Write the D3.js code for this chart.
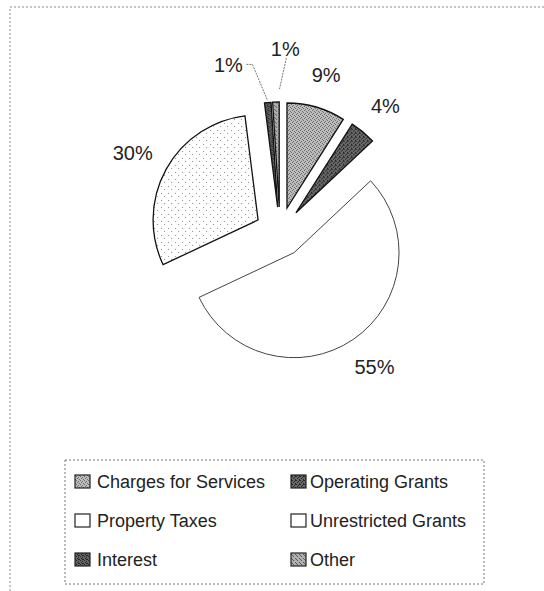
<!DOCTYPE html>
<meta charset="utf-8">
<script src="https://cdn.jsdelivr.net/npm/d3@7"></script>
<style>
  body { margin: 0; background: #fff; }
  text { font-family: "Liberation Sans", Arial, sans-serif; fill: #222; }
</style>
<div id="chart"></div>
<script>

    // chart data
    var categories = ["Charges for Services", "Operating Grants", "Property Taxes",
                      "Unrestricted Grants", "Interest", "Other"];
    var shares = [9, 4, 55, 30, 1, 1];
    var pctLabels = ["9%", "4%", "55%", "30%", "1%", "1%"];
    var fills = ["url(#pCharges)", "url(#pOperating)", "#ffffff",
                 "url(#pDots)", "url(#pInterest)", "url(#pOther)"];
    var legendFills = ["url(#pCharges)", "url(#pOperating)", "#ffffff",
                       "#ffffff", "url(#pInterest)", "url(#pOther)"];

    var width = 544, height = 591;
    var cx = 280, cy = 232, radius = 105, explode = 25;

    var svg = d3.select("#chart")
        .append("svg")
        .attr("width", width)
        .attr("height", height);

    // stipple patterns to mimic the printed fills
    var defs = svg.append("defs");
    function stipple(id, bg, fg, size, pts) {
        var p = defs.append("pattern")
            .attr("id", id)
            .attr("patternUnits", "userSpaceOnUse")
            .attr("width", size).attr("height", size);
        p.append("rect").attr("width", size).attr("height", size).attr("fill", bg);
        pts.forEach(function (q) {
            p.append("rect").attr("x", q[0]).attr("y", q[1])
                .attr("width", 1).attr("height", 1).attr("fill", fg);
        });
    }
    stipple("pCharges", "#bdbdbd", "#6a6a6a", 4, [[0, 0], [2, 1], [1, 2], [3, 3]]);
    stipple("pOperating", "#6a6a6a", "#262626", 4, [[0, 0], [2, 1], [1, 2], [3, 3], [3, 0]]);
    stipple("pInterest", "#666666", "#222222", 4, [[0, 0], [2, 1], [1, 2], [3, 3], [2, 3]]);
    stipple("pOther", "#b0b0b0", "#5a5a5a", 4, [[1, 0], [3, 2], [0, 3]]);
    stipple("pDots", "#ffffff", "#8a8a8a", 7, [[1, 1], [4, 4]]);

    // dotted chart frame
    svg.append("rect")
        .attr("x", 10).attr("y", 7)
        .attr("width", 560).attr("height", 600)
        .attr("fill", "none")
        .attr("stroke", "#8a8a8a")
        .attr("stroke-dasharray", "2,2");

    var pie = d3.pie().sort(null).value(function (d) { return d; });
    var arcs = pie(shares);
    var arc = d3.arc().innerRadius(0).outerRadius(radius);

    function midAngle(a) { return (a.startAngle + a.endAngle) / 2; }
    function offsetOf(a, dist) {
        var m = midAngle(a);
        return [cx + dist * Math.sin(m), cy - dist * Math.cos(m)];
    }

    var slices = svg.selectAll(".slice")
        .data(arcs)
        .enter()
        .append("g")
        .attr("class", "slice")
        .attr("transform", function (d) {
            var p = offsetOf(d, explode);
            return "translate(" + p[0] + "," + p[1] + ")";
        });

    slices.append("path")
        .attr("d", arc)
        .attr("fill", function (d, i) { return fills[i]; })
        .attr("stroke", function (d, i) { return i == 2 ? "#444" : "#111"; })
        .attr("stroke-width", function (d, i) { return i == 2 ? 1 : 1.3; })
        .attr("stroke-linejoin", "miter");

    // percentage labels for the larger slices
    var labelR = radius + 28;
    arcs.forEach(function (d, i) {
        if (shares[i] < 2) return;
        var m = midAngle(d);
        var ec = offsetOf(d, explode);
        var t = svg.append("text")
            .attr("font-size", "20px")
            .attr("text-anchor", "middle")
            .attr("dominant-baseline", "central")
            .text(pctLabels[i]);
        var bb = t.node().getBBox();
        var x = ec[0] + labelR * Math.sin(m) + 0.5 * (bb.width / 2) * Math.sin(m);
        var y = ec[1] - labelR * Math.cos(m) - 0.5 * (bb.height / 2) * Math.cos(m);
        t.attr("x", x).attr("y", y);
    });

    // small slices: labels pulled out with leader lines
    var small = arcs.filter(function (d, i) { return shares[i] < 2; });
    var spread = [-0.24, 0.07];
    var dists = [150, 158];
    small.forEach(function (d, k) {
        var i = d.index;
        var m = midAngle(d);
        var ec = offsetOf(d, explode);
        var la = m + spread[k];
        var lx = ec[0] + dists[k] * Math.sin(la);
        var ly = ec[1] - dists[k] * Math.cos(la);
        svg.append("text")
            .attr("x", lx).attr("y", ly)
            .attr("font-size", "20px")
            .attr("text-anchor", "middle")
            .attr("dominant-baseline", "central")
            .text(pctLabels[i]);
        var tip = [ec[0] + (radius + 2) * Math.sin(m), ec[1] - (radius + 2) * Math.cos(m)];
        var pts;
        if (k == 0) {
            pts = [[lx + 18, ly - 1], [lx + 24, ly - 1], tip];
        } else {
            var tip2 = [ec[0] + (radius + 13) * Math.sin(m) + 4, ec[1] - (radius + 13) * Math.cos(m)];
            pts = [[lx + 1, ly + 9], tip2];
        }
        svg.append("path")
            .attr("d", d3.line()(pts))
            .attr("fill", "none")
            .attr("stroke", "#777")
            .attr("stroke-width", 1)
            .attr("stroke-dasharray", "2,1");
    });

    // legend
    var lg = svg.append("g");
    lg.append("rect")
        .attr("x", 65).attr("y", 460)
        .attr("width", 419).attr("height", 124)
        .attr("fill", "none")
        .attr("stroke", "#777")
        .attr("stroke-dasharray", "2,2");

    var colX = [75, 291], rowY = [482, 521, 560];
    categories.forEach(function (c, i) {
        var x = colX[i % 2], y = rowY[Math.floor(i / 2)];
        lg.append("rect")
            .attr("x", x).attr("y", y - 7)
            .attr("width", 15).attr("height", 13)
            .attr("fill", legendFills[i])
            .attr("stroke", "#222")
            .attr("stroke-width", 1.2);
        lg.append("text")
            .attr("x", x + (i % 2 ? 19 : 22)).attr("y", y)
            .attr("font-size", "18px")
            .attr("dominant-baseline", "central")
            .text(c);
    });

</script>
